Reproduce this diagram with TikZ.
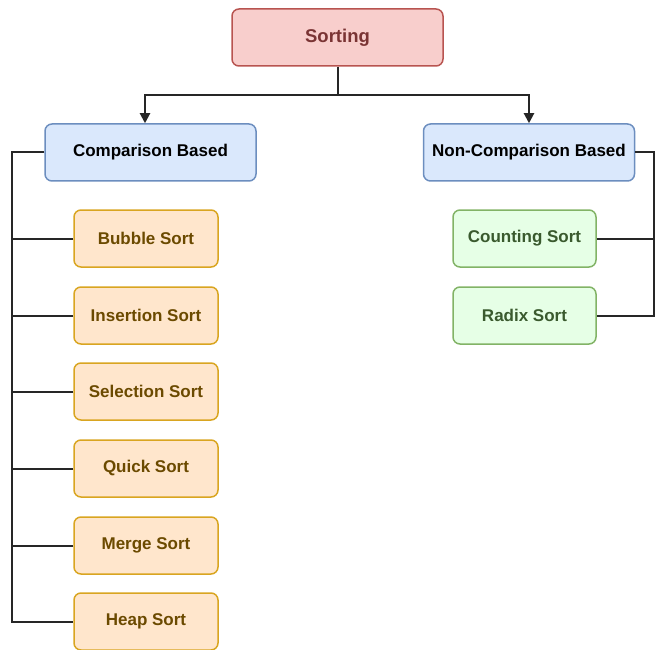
\documentclass[tikz,border=0pt]{standalone}
\usepackage{fontspec}
\setmainfont{Liberation Sans}
\usetikzlibrary{arrows.meta}
\definecolor{redF}{HTML}{F8CECC}\definecolor{redD}{HTML}{B85450}\definecolor{redT}{HTML}{7A3434}
\definecolor{bluF}{HTML}{DAE8FC}\definecolor{bluD}{HTML}{6C8EBF}
\definecolor{orgF}{HTML}{FFE6CC}\definecolor{orgD}{HTML}{D9A520}\definecolor{orgT}{HTML}{6B4A00}
\definecolor{grnF}{HTML}{E6FFE6}\definecolor{grnD}{HTML}{82B366}\definecolor{grnT}{HTML}{3A5A2E}
\tikzset{
  box/.style={draw, line width=1.5pt, rounded corners=7pt, minimum height=57pt, inner sep=0pt, font=\fontsize{17}{20}\selectfont\bfseries},
  rootbox/.style={box, fill=redF, draw=redD, text=redT, minimum width=211pt, font=\fontsize{18.5}{22}\selectfont\bfseries},
  catbox/.style={box, fill=bluF, draw=bluD, text=black, minimum width=211pt},
  orgbox/.style={box, fill=orgF, draw=orgD, text=orgT, minimum width=144pt},
  grnbox/.style={box, fill=grnF, draw=grnD, text=grnT, minimum width=143pt},
  conn/.style={line width=2pt, draw=black!85},
  arr/.style={conn, -{Triangle[length=10pt,width=10pt]}}
}
\begin{document}
\begin{tikzpicture}[x=1pt,y=-1pt]
\useasboundingbox (0,0) rectangle (659,650);
\node[rootbox] (sort) at (337.5,37.5) {Sorting};
\node[catbox] (cmp) at (150.5,152.5) {Comparison Based};
\node[catbox] (ncmp) at (529,152.5) {Non-Comparison Based};
\node[orgbox] (bub) at (146,238.5) {Bubble Sort};
\node[orgbox] (ins) at (146,315.5) {Insertion Sort};
\node[orgbox] (sel) at (146,391.5) {Selection Sort};
\node[orgbox] (qui) at (146,468.5) {Quick Sort};
\node[orgbox] (mer) at (146,545.5) {Merge Sort};
\node[orgbox] (hea) at (146,621.5) {Heap Sort};
\node[grnbox] (cnt) at (524.5,238.5) {Counting Sort};
\node[grnbox] (rad) at (524.5,315.5) {Radix Sort};
\coordinate (jn) at (337.5,95);
\coordinate (lt) at (145,95);
\draw[conn] (sort.south) -- (jn);
\draw[arr] (jn) -- (lt) -- (lt |- cmp.north);
\draw[arr] (jn) -| (ncmp.north);
\coordinate (lb) at (12,152.5);
\draw[conn] (cmp.west) -- (lb) |- (hea.west);
\foreach \n in {bub,ins,sel,qui,mer} \draw[conn] (\n.west) -- (lb |- \n.west);
\coordinate (rb) at (654,152.5);
\draw[conn] (ncmp.east) -- (rb) |- (rad.east);
\draw[conn] (cnt.east) -- (rb |- cnt.east);
\end{tikzpicture}
\end{document}
